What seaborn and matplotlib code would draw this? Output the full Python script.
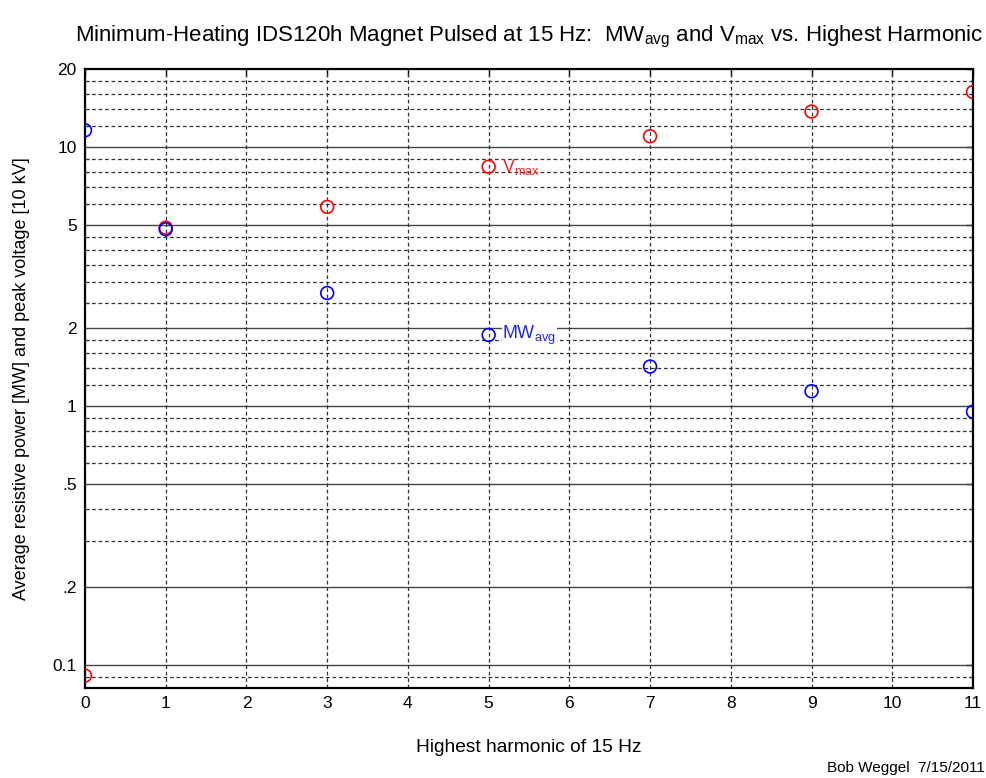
import matplotlib
matplotlib.use("Agg")
import matplotlib.pyplot as plt
import seaborn as sns
import pandas as pd
from matplotlib.ticker import FixedLocator, FixedFormatter, NullFormatter

# ---- data ----
harmonic = [0, 1, 3, 5, 7, 9, 11]
mw_avg = [11.6, 4.81, 2.73, 1.88, 1.42, 1.14, 0.95]
v_max = [0.091, 4.88, 5.87, 8.39, 11.0, 13.7, 16.3]
x_ticks = list(range(0, 12))
y_major = [0.1, 0.2, 0.5, 1, 2, 5, 10, 20]
y_major_labels = ["0.1", ".2", ".5", "1", "2", "5", "10", "20"]
y_minor = [0.09, 0.3, 0.4, 0.6, 0.7, 0.8, 0.9, 1.2, 1.4, 1.6, 1.8,
           2.5, 3, 3.5, 4, 4.5, 6, 7, 8, 9, 12, 14, 16, 18]

sns.set_style("white")
plt.rcParams['font.family'] = ['Liberation Sans', 'DejaVu Sans']
plt.rcParams['mathtext.fontset'] = 'custom'
plt.rcParams['mathtext.rm'] = 'Liberation Sans'
plt.rcParams['mathtext.it'] = 'Liberation Sans'
plt.rcParams['text.color'] = 'black'
plt.rcParams['axes.labelcolor'] = 'black'
plt.rcParams['xtick.color'] = 'black'
plt.rcParams['ytick.color'] = 'black'

fig = plt.figure(figsize=(9.87, 7.78), dpi=100)
ax = fig.add_axes([85/987, 1-688/778, (973-85)/987, (688-69)/778])

ax.set_yscale('log')
ax.set_xlim(0, 11)
ax.set_ylim(0.0815, 20)

# grid lines
for v in y_major:
    if v < 20:
        ax.axhline(v, color='#444444', lw=1.0, zorder=1)
for v in y_minor:
    ax.axhline(v, color='#333333', lw=0.9, ls=(0, (3, 2.2)), zorder=1)
for x in x_ticks[1:-1]:
    ax.axvline(x, color='#333333', lw=0.9, ls=(0, (3, 2.2)), zorder=1)

df = pd.DataFrame({'harmonic': harmonic, 'MW': mw_avg, 'V': v_max})
sns.scatterplot(data=df, x='harmonic', y='V', ax=ax, marker='o', s=85,
                facecolor='none', edgecolor='#ff0000', linewidth=1.2, zorder=3)
sns.scatterplot(data=df, x='harmonic', y='MW', ax=ax, marker='o', s=85,
                facecolor='none', edgecolor='#0000ff', linewidth=1.2, zorder=3)

ax.text(harmonic[3] + 0.17, v_max[3], r'V$_{\mathregular{max}}$', color='#ff2020',
        fontsize=13, va='center', ha='left')
ax.text(harmonic[3] + 0.17, mw_avg[3], r'MW$_{\mathregular{avg}}$', color='#2020ff',
        fontsize=13, va='center', ha='left',
        bbox=dict(facecolor='white', edgecolor='none', pad=0.5))

ax.xaxis.set_major_locator(FixedLocator(x_ticks))
ax.set_xticklabels([str(t) for t in x_ticks], fontsize=12.5)
ax.yaxis.set_major_locator(FixedLocator(y_major))
ax.yaxis.set_major_formatter(FixedFormatter(y_major_labels))
ax.yaxis.set_minor_locator(FixedLocator(y_minor))
ax.yaxis.set_minor_formatter(NullFormatter())
ax.tick_params(axis='both', which='major', direction='in', length=5, width=1,
               top=True, right=True, labelsize=12.5, pad=6, colors='black')
ax.tick_params(axis='y', which='minor', direction='in', length=3, width=0.8,
               left=True, right=True, colors='black')

for sp in ax.spines.values():
    sp.set_visible(True)
    sp.set_color('black')
    sp.set_linewidth(1.6)

ax.set_xlabel('Highest harmonic of 15 Hz', fontsize=13.8, labelpad=20, color='black')
ax.set_ylabel('Average resistive power [MW] and peak voltage [10 kV]', fontsize=13, labelpad=16, color='black')
ax.set_title(r'Minimum-Heating IDS120h Magnet Pulsed at 15 Hz:  MW$_{\mathregular{avg}}$ and V$_{\mathregular{max}}$ vs. Highest Harmonic',
             fontsize=16, pad=20, color='black')
fig.text(985/987, 1-768/778, 'Bob Weggel  7/15/2011', fontsize=11, ha='right', va='center', color='black')

fig.savefig('out.png', dpi=100)
